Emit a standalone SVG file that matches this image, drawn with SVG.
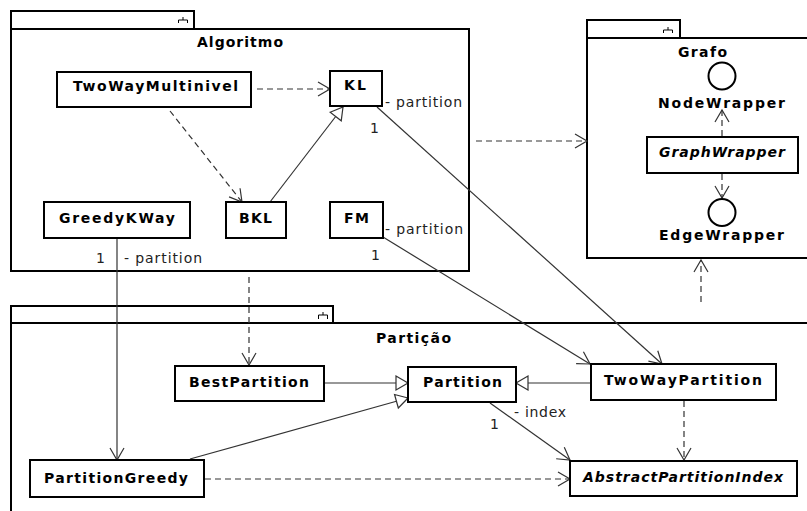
<svg xmlns="http://www.w3.org/2000/svg" width="807" height="511" viewBox="0 0 807 511">
  <style>
    .pkg { fill: #ffffff; stroke: #000000; stroke-width: 2; }
    .icon { fill: none; stroke: #000000; stroke-width: 1; }
    .box { fill: #ffffff; stroke: #000000; stroke-width: 2; }
    .iface { fill: #ffffff; stroke: #000000; stroke-width: 2; }
    .name { font-family: "DejaVu Sans", "Liberation Sans", sans-serif; font-size: 14px; font-weight: bold; fill: #000000; }
    .abstract { font-style: italic; }
    .lbl { font-family: "DejaVu Sans", "Liberation Sans", sans-serif; font-size: 14px; fill: #222222; }
    .line { fill: none; stroke: #333333; stroke-width: 1.2; }
    .dash { stroke-dasharray: 6 4; }
    .open { marker-end: url(#openArrow); }
    .gen { marker-end: url(#hollowTri); }
  </style>
  <defs>
    <marker id="openArrow" markerUnits="userSpaceOnUse" markerWidth="16" markerHeight="18" viewBox="-14 -9 16 18" refX="0" refY="0" orient="auto">
      <path d="M -12 -7 L 0 0 L -12 7" fill="none" stroke="#333333" stroke-width="1.2"/>
    </marker>
    <marker id="hollowTri" markerUnits="userSpaceOnUse" markerWidth="18" markerHeight="18" viewBox="-14 -9 16 18" refX="0" refY="0" orient="auto">
      <path d="M -12 -7 L 0 0 L -12 7 Z" fill="#ffffff" stroke="#333333" stroke-width="1.2"/>
    </marker>
  </defs>

  <rect width="807" height="511" fill="#ffffff"/>

  <!-- packages -->
  <g id="pkg-algoritmo">
    <rect class="pkg" x="11" y="11" width="183" height="18"/>
    <rect class="pkg" x="11" y="29" width="458" height="242"/>
    <path class="icon" d="M183 17 V20 M178.5 23 V20 H187.5 V23"/>
    <text class="name" x="197" y="47" textLength="86" lengthAdjust="spacing">Algoritmo</text>
  </g>
  <g id="pkg-grafo">
    <rect class="pkg" x="587" y="20" width="93" height="18"/>
    <rect class="pkg" x="587" y="38" width="240" height="220"/>
    <path class="icon" d="M668 27 V30 M663.5 33 V30 H672.5 V33"/>
    <text class="name" x="678" y="57" textLength="49" lengthAdjust="spacing">Grafo</text>
  </g>
  <g id="pkg-particao">
    <rect class="pkg" x="11" y="306" width="322" height="17"/>
    <rect class="pkg" x="11" y="323" width="816" height="210"/>
    <path class="icon" d="M323 312 V315 M318.5 319 V315 H327.5 V319"/>
    <text class="name" x="376" y="343" textLength="75" lengthAdjust="spacing">Partição</text>
  </g>

  <!-- connectors -->
  <g id="connectors">
    <line class="line dash open" x1="257" y1="89" x2="330" y2="89"/>
    <line class="line dash open" x1="170" y1="111" x2="242" y2="202"/>
    <line class="line gen" x1="270" y1="202" x2="343" y2="107"/>
    <line class="line open" x1="377" y1="107" x2="662" y2="364"/>
    <line class="line open" x1="383" y1="237" x2="590" y2="364"/>
    <line class="line open" x1="117" y1="238" x2="117" y2="460"/>
    <line class="line dash open" x1="476" y1="141" x2="587" y2="141"/>
    <line class="line dash open" x1="249" y1="277" x2="249" y2="365"/>
    <line class="line dash open" x1="722" y1="136" x2="722" y2="110"/>
    <line class="line dash open" x1="722" y1="174" x2="722" y2="198"/>
    <line class="line dash open" x1="701" y1="302" x2="701" y2="260"/>
    <line class="line gen" x1="324" y1="383" x2="408" y2="383"/>
    <line class="line gen" x1="190" y1="459" x2="408" y2="398"/>
    <line class="line gen" x1="591" y1="383" x2="516" y2="383"/>
    <line class="line open" x1="490" y1="403" x2="570" y2="460"/>
    <line class="line dash open" x1="684" y1="401" x2="684" y2="460"/>
    <line class="line dash open" x1="205" y1="479" x2="570" y2="479"/>

    <text class="lbl" x="385" y="107" textLength="77" lengthAdjust="spacing">- partition</text>
    <text class="lbl" x="370" y="133">1</text>
    <text class="lbl" x="385" y="234" textLength="78" lengthAdjust="spacing">- partition</text>
    <text class="lbl" x="371" y="260">1</text>
    <text class="lbl" x="96" y="263">1</text>
    <text class="lbl" x="124" y="263" textLength="78" lengthAdjust="spacing">- partition</text>
    <text class="lbl" x="514" y="417" textLength="52" lengthAdjust="spacing">- index</text>
    <text class="lbl" x="490" y="429">1</text>
  </g>

  <!-- Algoritmo classes -->
  <g id="TwoWayMultinivel">
    <rect class="box" x="57" y="72" width="194" height="35"/>
    <text class="name" x="73" y="91" textLength="165" lengthAdjust="spacing">TwoWayMultinivel</text>
  </g>
  <g id="KL">
    <rect class="box" x="330" y="71" width="52" height="35"/>
    <text class="name" x="344" y="90" textLength="22" lengthAdjust="spacing">KL</text>
  </g>
  <g id="GreedyKWay">
    <rect class="box" x="44" y="202" width="146" height="36"/>
    <text class="name" x="59" y="223" textLength="116" lengthAdjust="spacing">GreedyKWay</text>
  </g>
  <g id="BKL">
    <rect class="box" x="226" y="202" width="60" height="36"/>
    <text class="name" x="239" y="223" textLength="33" lengthAdjust="spacing">BKL</text>
  </g>
  <g id="FM">
    <rect class="box" x="330" y="202" width="53" height="36"/>
    <text class="name" x="344" y="223" textLength="25" lengthAdjust="spacing">FM</text>
  </g>

  <!-- Grafo members -->
  <g id="NodeWrapper">
    <circle class="iface" cx="722" cy="76" r="13.5"/>
    <text class="name" x="658" y="108" textLength="127" lengthAdjust="spacing">NodeWrapper</text>
  </g>
  <g id="GraphWrapper">
    <rect class="box" x="647" y="137" width="151" height="36"/>
    <text class="name abstract" x="659" y="157" textLength="126" lengthAdjust="spacing">GraphWrapper</text>
  </g>
  <g id="EdgeWrapper">
    <circle class="iface" cx="722" cy="212.5" r="13.5"/>
    <text class="name" x="659" y="240" textLength="125" lengthAdjust="spacing">EdgeWrapper</text>
  </g>

  <!-- Partição classes -->
  <g id="BestPartition">
    <rect class="box" x="175" y="366" width="149" height="35"/>
    <text class="name" x="189" y="387" textLength="120" lengthAdjust="spacing">BestPartition</text>
  </g>
  <g id="Partition">
    <rect class="box" x="408" y="367" width="108" height="35"/>
    <text class="name" x="423" y="387" textLength="79" lengthAdjust="spacing">Partition</text>
  </g>
  <g id="TwoWayPartition">
    <rect class="box" x="591" y="364" width="185" height="36"/>
    <text class="name" x="604" y="385" textLength="158" lengthAdjust="spacing">TwoWayPartition</text>
  </g>
  <g id="PartitionGreedy">
    <rect class="box" x="30" y="460" width="174" height="37"/>
    <text class="name" x="44" y="483" textLength="144" lengthAdjust="spacing">PartitionGreedy</text>
  </g>
  <g id="AbstractPartitionIndex">
    <rect class="box" x="570" y="461" width="227" height="35"/>
    <text class="name abstract" x="583" y="482" textLength="200" lengthAdjust="spacing">AbstractPartitionIndex</text>
  </g>
</svg>
